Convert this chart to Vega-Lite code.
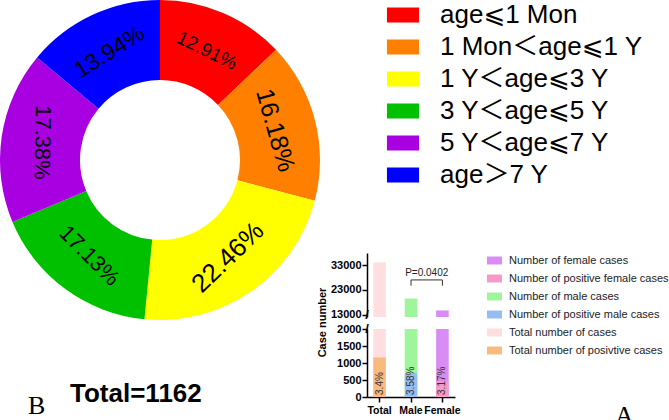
{
  "$schema": "https://vega.github.io/schema/vega-lite/v6.json",
  "padding": 0,
  "background": "white",
  "bounds": "flush",
  "spacing": 47,
  "config": {"view": {"stroke": null}, "font": "Liberation Sans"},
  "datasets": {
    "ages": [
      {"age": "age⩽1 Mon", "pct": 12.91, "label": "12.91%"},
      {"age": "1 Mon＜age⩽1 Y", "pct": 16.18, "label": "16.18%"},
      {"age": "1 Y＜age⩽3 Y", "pct": 22.46, "label": "22.46%"},
      {"age": "3 Y＜age⩽5 Y", "pct": 17.13, "label": "17.13%"},
      {"age": "5 Y＜age⩽7 Y", "pct": 17.38, "label": "17.38%"},
      {"age": "age＞7 Y", "pct": 13.94, "label": "13.94%"}
    ],
    "bars": [
      {"group": "Total", "series": "Total number of cases", "value": 34140},
      {"group": "Male", "series": "Number of male cases", "value": 19470},
      {"group": "Female", "series": "Number of female cases", "value": 14670},
      {"group": "Total", "series": "Total number of  posivtive cases", "value": 1162, "pct": "3.4%"},
      {"group": "Male", "series": "Number of positive male cases", "value": 697, "pct": "3.58%"},
      {"group": "Female", "series": "Number of positive female cases", "value": 465, "pct": "3.17%"}
    ],
    "ptest": [{"a": "Male", "b": "Female", "top": 27060, "bot": 24720, "p": "P=0.0402"}]
  },
  "resolve": {"scale": {"color": "independent"}, "legend": {"color": "independent"}},
  "hconcat": [
    {
      "width": 320,
      "height": 320,
      "data": {"name": "ages"},
      "transform": [{"window": [{"op": "row_number", "as": "k"}]}],
      "title": {"text": "Total=1162", "orient": "bottom", "anchor": "start", "frame": "group", "dx": 70, "offset": 82, "font": "Liberation Sans", "fontSize": 26, "fontWeight": "bold", "baseline": "alphabetic", "color": "#000"},
      "encoding": {
        "theta": {"field": "pct", "type": "quantitative", "stack": true},
        "order": {"field": "k", "type": "quantitative"}
      },
      "layer": [
        {
          "mark": {"type": "arc", "innerRadius": 80, "outerRadius": 160},
          "encoding": {
            "color": {
              "field": "age", "type": "nominal", "sort": null,
              "scale": {"domain": ["age⩽1 Mon", "1 Mon＜age⩽1 Y", "1 Y＜age⩽3 Y", "3 Y＜age⩽5 Y", "5 Y＜age⩽7 Y", "age＞7 Y"],
                        "range": ["#FF0000", "#FF8000", "#FFFF00", "#00C000", "#A800E0", "#0000FF"]},
              "legend": {"orient": "right", "offset": 68, "title": null, "padding": 0,
                         "symbolType": "M-1.07,-0.5H1.07V0.5H-1.07Z", "symbolSize": 900, "symbolStrokeWidth": 0, "symbolOpacity": 1,
                         "labelFontSize": 26, "labelFont": "Liberation Sans, DejaVu Sans, Noto Sans CJK SC", "labelColor": "#000",
                         "labelOffset": 22, "rowPadding": 4, "labelLimit": 400}
            }
          }
        },
        {
          "mark": {"type": "text", "radius": 119, "font": "Liberation Sans", "align": "center", "baseline": "middle", "color": "#000"},
          "encoding": {
            "text": {"field": "label", "type": "nominal"},
            "angle": {"condition": [
              {"test": "datum.label === '12.91%'", "value": 26},
              {"test": "datum.label === '16.18%'", "value": 74},
              {"test": "datum.label === '22.46%'", "value": 316},
              {"test": "datum.label === '17.13%'", "value": 45},
              {"test": "datum.label === '17.38%'", "value": 91}
            ], "value": 328},
            "size": {"condition": [
              {"test": "datum.label === '12.91%'", "value": 19},
              {"test": "datum.label === '16.18%'", "value": 25},
              {"test": "datum.label === '22.46%'", "value": 26},
              {"test": "datum.label === '13.94%'", "value": 23}
            ], "value": 22}
          }
        }
      ]
    },
    {
      "bounds": "flush",
      "spacing": 12,
      "resolve": {"scale": {"color": "independent"}, "legend": {"color": "independent"}},
      "vconcat": [
        {
          "width": 88,
          "height": 241,
          "title": {"text": "B", "orient": "bottom", "anchor": "start", "frame": "group", "dx": -339, "offset": 173, "font": "Liberation Serif", "fontSize": 26, "fontWeight": "normal", "baseline": "alphabetic", "color": "#000"},
          "data": {"values": [{"t": ""}]},
          "mark": {"type": "text"},
          "encoding": {"text": {"field": "t", "type": "nominal"}}
        },
        {
          "width": 88,
          "height": 64,
          "layer": [
            {
              "data": {"name": "bars"},
              "mark": {"type": "bar", "clip": true},
              "encoding": {
                "x": {"field": "group", "type": "nominal", "sort": null, "scale": {"domain": ["Total", "Male", "Female"], "paddingInner": 0.6, "paddingOuter": 0.2}, "axis": null},
                "y": {"field": "value", "type": "quantitative", "stack": null, "scale": {"domain": [13000, 38000], "zero": false},
                      "axis": {"values": [13000, 23000, 33000], "tickCount": 10, "format": "d", "labelOverlap": false, "labelFlush": false, "labelBound": false, "title": null, "grid": false, "domainColor": "#000", "domainWidth": 1.5, "tickColor": "#000", "tickWidth": 1.5, "tickSize": 5,
                               "labelFont": "Liberation Sans", "labelFontWeight": "bold", "labelFontSize": 11, "labelColor": "#000", "labelPadding": 1}},
                "color": {
                  "field": "series", "type": "nominal", "sort": null,
                  "scale": {"domain": ["Number of female cases", "Number of positive female cases", "Number of male cases", "Number of positive male cases", "Total number of cases", "Total number of  posivtive cases"],
                            "range": ["#DA8CF5", "#F59AC8", "#9EF59C", "#96BDF2", "#FFDEDF", "#F9BA7F"]},
                  "legend": {"orient": "right", "offset": 32, "title": null, "padding": 0,
                             "symbolType": "M-1,-0.53H1V0.53H-1Z", "symbolSize": 225, "symbolStrokeWidth": 0, "symbolOpacity": 1,
                             "labelFontSize": 11, "labelFont": "Liberation Sans", "labelColor": "#222", "labelOffset": 7, "rowPadding": 5, "labelLimit": 300}
                }
              }
            },
            {
              "data": {"name": "ptest"},
              "mark": {"type": "rule", "color": "#333", "strokeWidth": 1},
              "encoding": {
                "x": {"field": "a", "type": "nominal"},
                "x2": {"field": "b"},
                "y": {"field": "top", "type": "quantitative"}
              }
            },
            {
              "data": {"name": "ptest"},
              "mark": {"type": "rule", "color": "#333", "strokeWidth": 1},
              "encoding": {
                "x": {"field": "a", "type": "nominal"},
                "y": {"field": "top", "type": "quantitative"},
                "y2": {"field": "bot"}
              }
            },
            {
              "data": {"name": "ptest"},
              "mark": {"type": "rule", "color": "#333", "strokeWidth": 1},
              "encoding": {
                "x": {"field": "b", "type": "nominal"},
                "y": {"field": "top", "type": "quantitative"},
                "y2": {"field": "bot"}
              }
            },
            {
              "data": {"name": "ptest"},
              "mark": {"type": "text", "fontSize": 10, "color": "#222", "baseline": "bottom", "dy": -2, "align": "center"},
              "encoding": {
                "x": {"field": "a", "type": "nominal", "bandPosition": 1.75},
                "y": {"field": "top", "type": "quantitative"},
                "text": {"field": "p", "type": "nominal"}
              }
            },
            {
              "data": {"name": "ptest"},
              "mark": {"type": "text", "fontSize": 13, "fontWeight": "bold", "color": "#000", "baseline": "middle", "align": "center", "text": "/"},
              "encoding": {
                "x": {"datum": "Total", "type": "nominal", "bandPosition": -0.5},
                "y": {"datum": 13000, "type": "quantitative"}
              }
            }
          ]
        },
        {
          "width": 88,
          "height": 68,
          "title": {"text": "A", "orient": "bottom", "anchor": "start", "frame": "group", "dx": 248, "offset": 8, "font": "Liberation Serif", "fontSize": 26, "fontWeight": "normal", "baseline": "alphabetic", "color": "#000"},
          "layer": [
            {
              "data": {"name": "bars"},
              "mark": {"type": "bar", "clip": true},
              "encoding": {
                "x": {"field": "group", "type": "nominal", "sort": null, "scale": {"domain": ["Total", "Male", "Female"], "paddingInner": 0.6, "paddingOuter": 0.2},
                      "axis": {"title": null, "labelAngle": 0, "labelFont": "Liberation Sans", "labelFontWeight": "bold", "labelFontSize": 10.5, "labelColor": "#000",
                               "domainColor": "#000", "domainWidth": 1.5, "tickColor": "#000", "tickWidth": 1.5, "tickSize": 5, "labelPadding": 3}},
                "y": {"field": "value", "type": "quantitative", "stack": null, "scale": {"domain": [0, 2000]},
                      "axis": {"values": [0, 500, 1000, 1500, 2000], "tickCount": 10, "format": "d", "labelOverlap": false, "labelFlush": false, "labelBound": false,
                               "title": "Case number", "titleFont": "Liberation Sans", "titleFontWeight": "bold", "titleFontSize": 11, "titleColor": "#000",
                               "titleX": -45, "titleY": -7, "titleBaseline": "middle", "titleAngle": 270, "grid": false, "domainColor": "#000", "domainWidth": 1.5, "tickColor": "#000", "tickWidth": 1.5, "tickSize": 5,
                               "labelFont": "Liberation Sans", "labelFontWeight": "bold", "labelFontSize": 11, "labelColor": "#000", "labelPadding": 1}},
                "color": {
                  "field": "series", "type": "nominal", "sort": null,
                  "scale": {"domain": ["Number of female cases", "Number of positive female cases", "Number of male cases", "Number of positive male cases", "Total number of cases", "Total number of  posivtive cases"],
                            "range": ["#DA8CF5", "#F59AC8", "#9EF59C", "#96BDF2", "#FFDEDF", "#F9BA7F"]},
                  "legend": null
                }
              }
            },
            {
              "data": {"name": "bars"},
              "transform": [{"filter": "datum.pct"}],
              "mark": {"type": "text", "angle": 270, "align": "left", "baseline": "middle", "fontSize": 10, "color": "#333"},
              "encoding": {
                "x": {"field": "group", "type": "nominal"},
                "y": {"datum": 60, "type": "quantitative"},
                "text": {"field": "pct", "type": "nominal"}
              }
            },
            {
              "data": {"name": "ptest"},
              "mark": {"type": "text", "fontSize": 13, "fontWeight": "bold", "color": "#000", "baseline": "middle", "align": "center", "text": "/"},
              "encoding": {
                "x": {"datum": "Total", "type": "nominal", "bandPosition": -0.5},
                "y": {"datum": 2000, "type": "quantitative"}
              }
            }
          ]
        }
      ]
    }
  ]
}
